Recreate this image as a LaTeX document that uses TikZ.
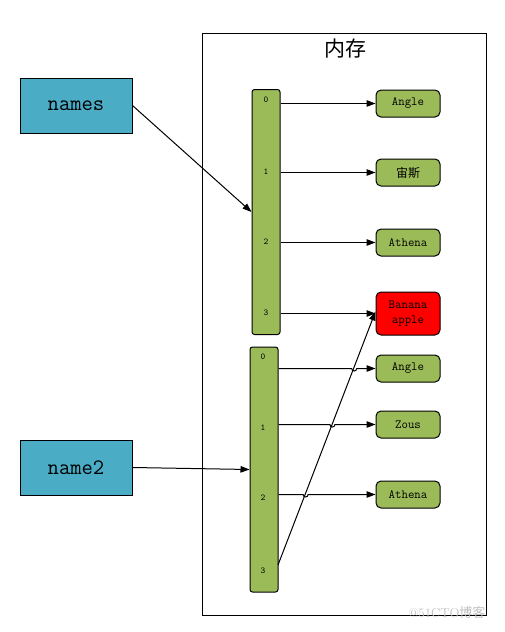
\documentclass[tikz,border=0pt]{standalone}
\usepackage{fontspec}
\newfontfamily\cjk{Noto Sans CJK SC}
\usetikzlibrary{arrows.meta}
\definecolor{vgreen}{HTML}{9BBB59}
\definecolor{vblue}{HTML}{4BACC6}
\tikzset{
  membox/.style={draw, line width=1pt, minimum width=284pt, minimum height=582pt, inner sep=0pt},
  varbox/.style={draw, line width=1pt, fill=vblue, minimum width=112pt, minimum height=55pt, inner sep=0pt, font=\ttfamily\fontsize{22}{26}\selectfont},
  arrbox/.style={draw, line width=1pt, fill=vgreen, rounded corners=2.5pt, minimum width=28pt, minimum height=245pt, inner sep=0pt},
  idx/.style={inner sep=0pt, font=\ttfamily\fontsize{9}{10}\selectfont},
  valbox/.style={draw, line width=1pt, fill=vgreen, rounded corners=5pt, minimum width=64pt, minimum height=27pt, inner sep=0pt, font=\ttfamily\fontsize{12.5}{13}\selectfont, align=center},
  link/.style={line width=1pt, -{Triangle[length=9pt,width=6.5pt]}}
}
\begin{document}
\begin{tikzpicture}[x=1pt,y=-1pt]
\useasboundingbox (0,0) rectangle (505,632);
\node[membox] (mem) at (344,324) {};
\node[font=\cjk\fontsize{21}{24}\selectfont] (title) at (345,49) {内存};

\node[varbox] (names) at (76,105.5) {names};
\node[varbox] (name2) at (76,467.5) {name2};

\node[arrbox] (a1) at (266,212) {};
\node[arrbox] (a2) at (264,469.5) {};

\node[idx] (i10) at (266,100) {0};
\node[idx] (i11) at (266,172) {1};
\node[idx] (i12) at (266,242) {2};
\node[idx] (i13) at (266,313) {3};
\node[idx] (i20) at (263,357) {0};
\node[idx] (i21) at (263,428) {1};
\node[idx] (i22) at (263,498) {2};
\node[idx] (i23) at (263,571) {3};

\node[valbox] (v0) at (408,103.5) {Angle};
\node[valbox] (v1) at (408,172.5) {{\cjk\fontsize{12}{13}\selectfont 宙斯}};
\node[valbox] (v2) at (408,242.5) {Athena};
\node[valbox, fill=red, minimum height=43pt, font=\ttfamily\fontsize{12.5}{15}\selectfont] (v3) at (408,313.5) {Banana\\apple};
\node[valbox] (w0) at (408,368.5) {Angle};
\node[valbox] (w1) at (408,424.5) {Zous};
\node[valbox] (w2) at (408,494.5) {Athena};

\draw[link] (names.east) -- (a1.west);
\draw[link] (name2.east) -- (a2.west);

\draw[link] (a1.east |- v0.west) -- (v0.west);
\draw[link] (a1.east |- v1.west) -- (v1.west);
\draw[link] (a1.east |- v2.west) -- (v2.west);
\draw[link] (a1.east |- v3.west) -- (v3.west);

\coordinate (s3) at (278,565);
\coordinate (h0) at (351.7,368.5);
\coordinate (h1) at (329.9,424.5);
\coordinate (h2) at (303.1,494.5);
\draw[link] (a2.east |- w0.west) -- (h0) arc[start angle=180,end angle=360,radius=2.5pt] -- (w0.west);
\draw[link] (a2.east |- w1.west) -- (h1) arc[start angle=180,end angle=360,radius=2.5pt] -- (w1.west);
\draw[link] (a2.east |- w2.west) -- (h2) arc[start angle=180,end angle=360,radius=2.5pt] -- (w2.west);
\draw[link] (s3) -- ([yshift=2pt]v3.west);

\node[text=black!25, font=\fontsize{13}{14}\selectfont] (wm) at (447,612) {@51CTO{\cjk 博客}};
\end{tikzpicture}
\end{document}
